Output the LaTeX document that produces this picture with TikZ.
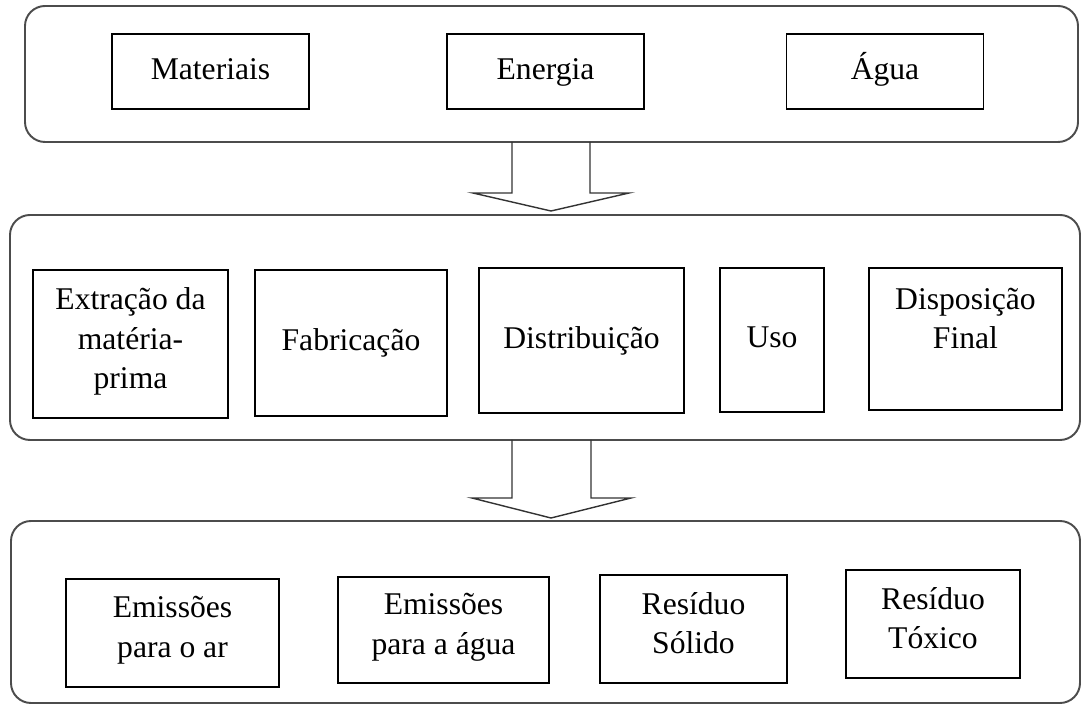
\documentclass[tikz,border=0pt]{standalone}
\usepackage{fontspec}
\setmainfont{Liberation Serif}
\usepackage{tikz}
\newcommand{\px}{0.02cm}

\begin{document}
\begin{tikzpicture}[x=\px,y=-\px,
    painel/.style={draw=black!70, line width=1.1pt, rounded corners=0.4cm, inner sep=0pt},
    caixa/.style={draw=black, line width=0.8pt, inner sep=0pt, align=center,
                  font=\fontsize{18}{22.5}\selectfont,
                  execute at begin node=\strut, execute at end node=\strut},
    seta/.style={draw=black!80, line width=0.8pt, line join=miter}]
	\useasboundingbox (0,0) rectangle (1083,705);
	% paineis
	\node[painel, minimum width=1053*\px, minimum height=136*\px] (entradas) at (551.5,74) {};
	\node[painel, minimum width=1070*\px, minimum height=225*\px] (ciclo) at (545,327.5) {};
	\node[painel, minimum width=1069*\px, minimum height=182*\px] (saidas) at (545.5,612) {};
	% entradas
	\node[caixa, minimum width=197*\px, minimum height=75*\px] (materiais) at (210.5,71.5) {Materiais};
	\node[caixa, minimum width=197*\px, minimum height=75*\px] (energia) at (545.5,71.5) {Energia};
	\node[caixa, minimum width=197*\px, minimum height=75*\px] (agua) at (885,71.5) {Água};
	% ciclo de vida
	\node[caixa, minimum width=195*\px, minimum height=148*\px] (extracao) at (130.5,344) {Extração da\\matéria-\\prima};
	\node[caixa, minimum width=192*\px, minimum height=146*\px] (fabricacao) at (351,343) {Fabricação};
	\node[caixa, minimum width=205*\px, minimum height=145*\px] (distribuicao) at (581.5,340.5) {Distribuição};
	\node[caixa, minimum width=104*\px, minimum height=144*\px] (uso) at (772,340) {Uso};
	\node[caixa, minimum width=193*\px, minimum height=142*\px] (disposicao) at (965.5,339) {Disposição\\Final\\[-6pt] \mbox{}};
	% saidas
	\node[caixa, minimum width=213*\px, minimum height=108*\px] (emar) at (172.5,633) {Emissões\\para o ar};
	\node[caixa, minimum width=211*\px, minimum height=106*\px] (emagua) at (443.5,630) {Emissões\\para a água};
	\node[caixa, minimum width=187*\px, minimum height=108*\px] (solido) at (693.5,629) {Resíduo\\Sólido};
	\node[caixa, minimum width=174*\px, minimum height=108*\px] (toxico) at (933,624) {Resíduo\\Tóxico};
	% setas
	\draw[seta] (512,142) -- (512,193) -- (473,193) -- (551,211) -- (629,193) -- (590,193) -- (590,142);
	\draw[seta] (512,440) -- (512,498) -- (472,498) -- (551,518) -- (631,498) -- (591,498) -- (591,440);
\end{tikzpicture}
\end{document}
